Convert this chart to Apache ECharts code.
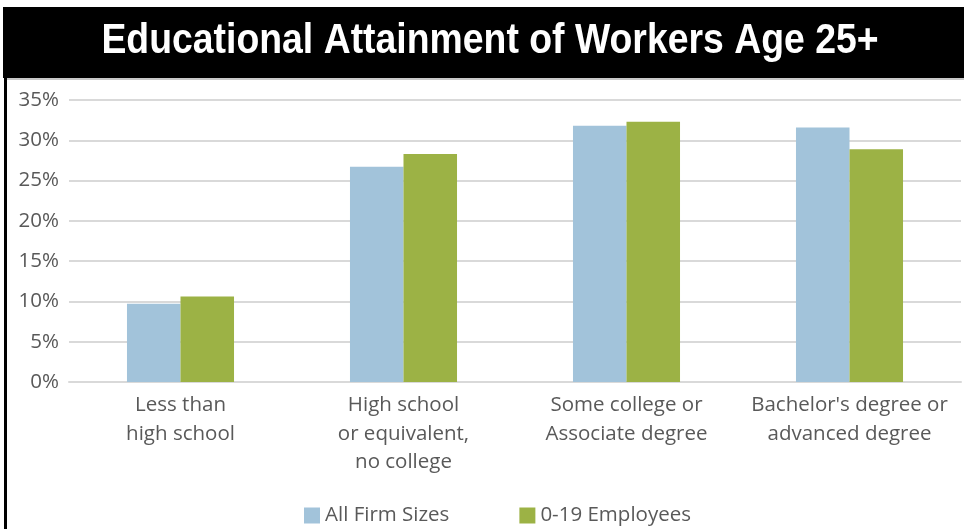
<!DOCTYPE html>
<html><head><meta charset="utf-8">
<script src="https://cdn.jsdelivr.net/npm/echarts@6/dist/echarts.min.js"></script>
<style>html,body{margin:0;padding:0;background:#fff}#c{width:964px;height:529px}</style>
</head><body><div id="c"></div>
<script>
const titleText = 'Educational Attainment of Workers Age 25+';
const categories = ['Less than\nhigh school', 'High school\nor equivalent,\nno college', 'Some college or\nAssociate degree', "Bachelor's degree or\nadvanced degree"];
const seriesNames = ['All Firm Sizes', '0-19 Employees'];
const allFirmSizes = [9.7, 26.7, 31.8, 31.6];
const employees0to19 = [10.6, 28.3, 32.3, 28.9];
const yTicks = [0, 5, 10, 15, 20, 25, 30, 35];

const chart = echarts.init(document.getElementById('c'), null, {renderer: 'canvas'});
chart.setOption({
  animation: false,
  graphic: [
    {type: 'rect', shape: {x: 3, y: 7, width: 961, height: 71}, style: {fill: '#000'}},
    {type: 'rect', shape: {x: 7, y: 78, width: 957, height: 2}, style: {fill: '#c8c8c8'}},
    {type: 'rect', shape: {x: 4, y: 7, width: 3, height: 522}, style: {fill: '#000'}},
    {type: 'text', x: 490, y: 41, scaleX: 0.89, scaleY: 1,
     style: {text: titleText, fill: '#fff', textAlign: 'center', textVerticalAlign: 'middle',
             font: 'bold 42px "Liberation Sans", Arial, sans-serif'}}
  ],
  legend: {
    left: 299, top: 500, itemWidth: 16, itemHeight: 16, itemGap: 70,
    icon: 'rect',
    textStyle: {color: '#595959', fontSize: 20.5, fontFamily: 'Open Sans'},
    data: seriesNames
  },
  grid: {left: 69, right: 3, top: 100, bottom: 147, containLabel: false},
  xAxis: {
    type: 'category', data: categories,
    axisLine: {show: true, lineStyle: {color: '#d9d9d9', width: 2}},
    axisTick: {show: false},
    axisLabel: {interval: 0, color: '#595959', fontSize: 20.5, fontFamily: 'Open Sans', lineHeight: 28.5, margin: 9}
  },
  yAxis: {
    type: 'value', min: yTicks[0], max: yTicks[yTicks.length - 1], interval: 5,
    axisLine: {show: false}, axisTick: {show: false},
    splitLine: {lineStyle: {color: '#d9d9d9', width: 2}},
    axisLabel: {formatter: '{value}%', color: '#595959', fontSize: 20.5, fontFamily: 'Open Sans', margin: 10}
  },
  series: [
    {name: seriesNames[0], type: 'bar', data: allFirmSizes, barGap: '0%', barCategoryGap: '52%', itemStyle: {color: '#a2c3da'}},
    {name: seriesNames[1], type: 'bar', data: employees0to19, barGap: '0%', barCategoryGap: '52%', itemStyle: {color: '#9cb245'}}
  ]
});
</script></body></html>
